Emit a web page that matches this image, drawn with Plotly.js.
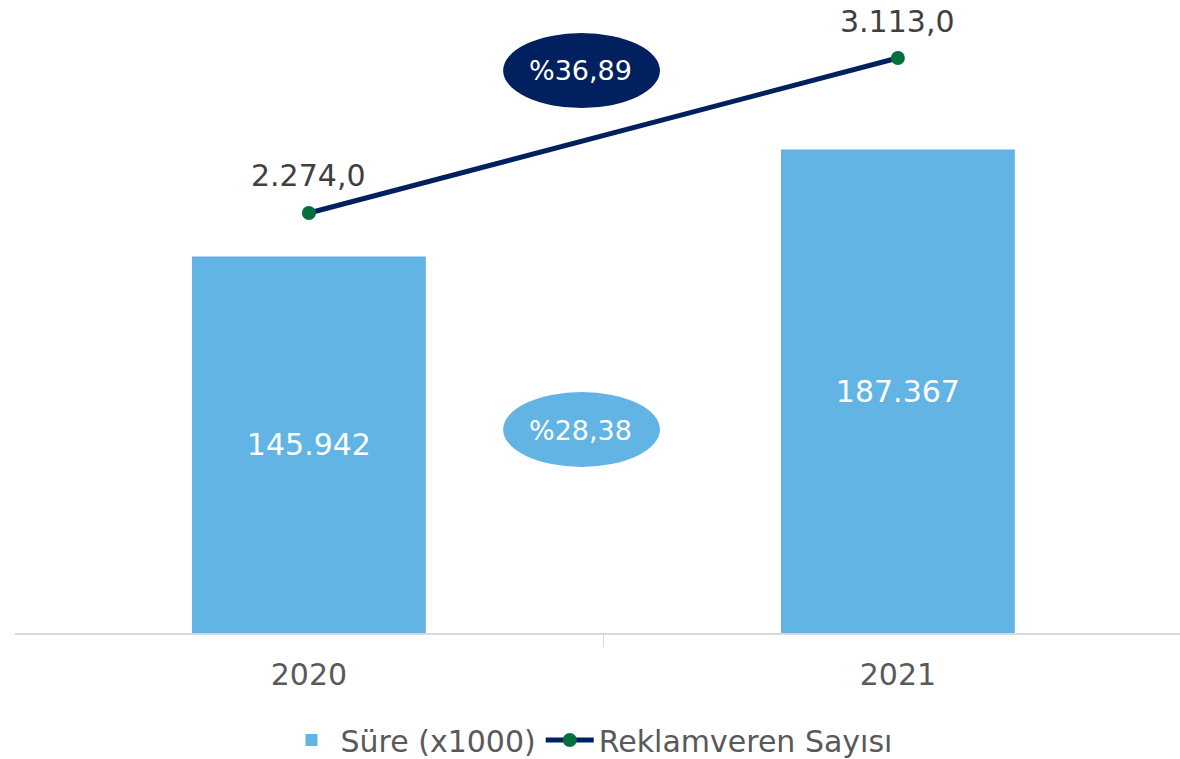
<!DOCTYPE html>
<html>
<head>
<meta charset="utf-8">
<script src="https://cdn.plot.ly/plotly-3.0.1.min.js"></script>
<style>html,body{margin:0;padding:0;background:#fff;}#chart{width:1180px;height:759px;}</style>
</head>
<body>
<div id="chart"></div>
<script>
const years = ['2020', '2021'];
const sure = [145942, 187367];            // Süre (x1000)
const reklamveren = [2274, 3113];         // Reklamveren Sayısı
const changeLabels = ['%36,89', '%28,38']; // line change, bar change

const FONT = 'DejaVu Sans, Verdana, sans-serif';

function fmtTR(v, dec) {
  const parts = v.toFixed(dec).split('.');
  const intPart = parts[0].replace(/\B(?=(\d{3})+(?!\d))/g, '.');
  return dec > 0 ? intPart + ',' + parts[1] : intPart;
}

const traces = [
  {
    type: 'bar',
    name: 'Süre (x1000)',
    x: years,
    y: sure,
    width: 0.397,
    marker: {color: '#62B4E4'},
    texttemplate: '%{y:,.0f}',
    textposition: 'inside',
    insidetextanchor: 'middle',
    textfont: {family: FONT, size: 30, color: '#ffffff'},
    hoverinfo: 'skip'
  },
  {
    type: 'scatter',
    mode: 'lines+markers',
    name: 'Reklamveren Sayısı',
    x: years,
    y: reklamveren,
    yaxis: 'y2',
    line: {color: '#002060', width: 5},
    marker: {color: '#00703C', size: 14},
    hoverinfo: 'skip'
  }
];

const lineLabels = years.map((yr, i) => ({
  xref: 'x', yref: 'y2', x: i, y: reklamveren[i],
  text: fmtTR(reklamveren[i], 1), showarrow: false,
  xanchor: 'center', yanchor: 'middle', yshift: 37,
  font: {family: FONT, size: 30, color: '#404040'}
}));

const layout = {
  width: 1180,
  height: 759,
  margin: {l: 15, r: 0, t: 10, b: 126},
  paper_bgcolor: '#ffffff',
  plot_bgcolor: '#ffffff',
  separators: ',.',
  font: {family: FONT, size: 30, color: '#595959'},
  showlegend: true,
  legend: {
    orientation: 'h',
    xref: 'container', yref: 'container',
    x: 0.5, xanchor: 'center',
    y: 0.025, yanchor: 'middle',
    font: {family: FONT, size: 30, color: '#595959'},
    traceorder: 'normal',
    itemwidth: 48
  },
  hovermode: false,
  xaxis: {
    type: 'category',
    range: [-0.499, 1.479],
    showline: true,
    linecolor: '#d9d9d9',
    linewidth: 2,
    ticks: 'outside',
    tickson: 'boundaries',
    ticklen: 12,
    tickcolor: '#d9d9d9',
    tickwidth: 1,
    showgrid: false,
    zeroline: false,
    tickfont: {family: FONT, size: 30, color: '#595959'},
    ticklabelstandoff: 14
  },
  yaxis: {
    range: [0, 241473],
    visible: false,
    showgrid: false,
    zeroline: false
  },
  yaxis2: {
    range: [0, 3373],
    overlaying: 'y',
    side: 'right',
    visible: false,
    showgrid: false,
    zeroline: false
  },
  shapes: [
    {
      type: 'circle', xref: 'paper', yref: 'paper',
      x0: 0.419, x1: 0.5536, y0: 0.8427, y1: 0.963,
      fillcolor: '#002060', line: {width: 0}
    },
    {
      type: 'circle', xref: 'paper', yref: 'paper',
      x0: 0.419, x1: 0.5536, y0: 0.2665, y1: 0.3868,
      fillcolor: '#62B4E4', line: {width: 0}
    }
  ],
  annotations: lineLabels.concat([
    {
      xref: 'paper', yref: 'paper', x: 0.4858, y: 0.9021,
      text: changeLabels[0], showarrow: false,
      xanchor: 'center', yanchor: 'middle',
      font: {family: FONT, size: 27, color: '#ffffff'}
    },
    {
      xref: 'paper', yref: 'paper', x: 0.4858, y: 0.3258,
      text: changeLabels[1], showarrow: false,
      xanchor: 'center', yanchor: 'middle',
      font: {family: FONT, size: 27, color: '#ffffff'}
    }
  ])
};

Plotly.newPlot('chart', traces, layout, {displayModeBar: false, staticPlot: true});
</script>
</body>
</html>
